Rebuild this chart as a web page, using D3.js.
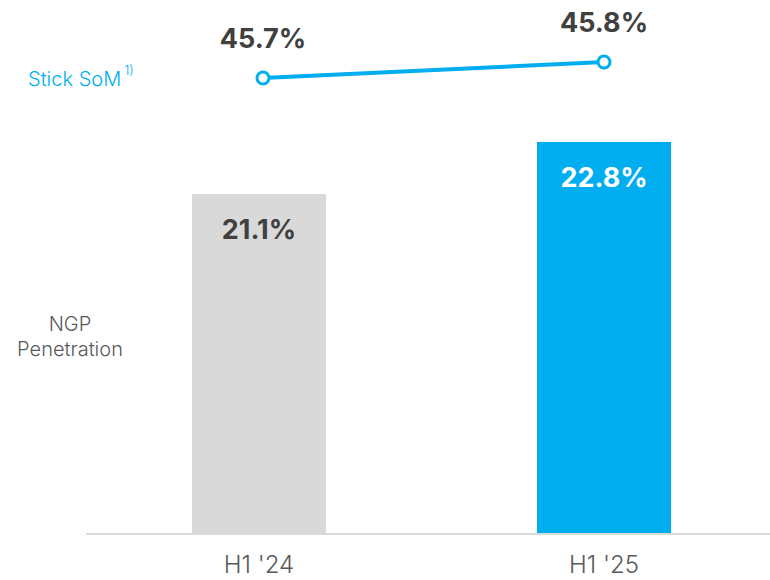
<!DOCTYPE html>
<html><head><meta charset="utf-8">
<script src="https://cdn.jsdelivr.net/npm/d3@7"></script>
<style>html,body{margin:0;padding:0;background:#fff;}svg{display:block;font-family:Inter,Roboto,"Noto Sans",sans-serif;}</style>
</head><body>
<svg id="chart" width="770" height="580"></svg>
<script>
const categories = ["H1 '24", "H1 '25"];
const ngpPenetration = [21.1, 22.8];
const stickSoM = [45.7, 45.8];
const barColors = ["#d9d9d9", "#00aeef"];
const barLabelColors = ["#404040", "#ffffff"];

const svg = d3.select("#chart");
const blue = "#00aeef";

const x = d3.scaleBand().domain(categories).range([86, 777]).paddingInner(0.6116).paddingOuter(0.307);
const y = d3.scaleLinear().domain([10, 27.434]).range([534, 0]);
const xLine = d3.scalePoint().domain(categories).range([263, 604]);
const yLine = d3.scaleLinear().domain([45.7, 45.8]).range([78, 62]);

// bars
svg.selectAll("rect.bar").data(categories).join("rect")
  .attr("class", "bar")
  .attr("x", d => x(d))
  .attr("width", x.bandwidth())
  .attr("y", (d, i) => y(ngpPenetration[i]))
  .attr("height", (d, i) => y(10) - y(ngpPenetration[i]))
  .attr("fill", (d, i) => barColors[i]);

// bar labels
svg.selectAll("text.barlab").data(categories).join("text")
  .attr("class", "barlab")
  .attr("x", d => x(d) + x.bandwidth() / 2)
  .attr("y", (d, i) => y(ngpPenetration[i]) + 45)
  .attr("text-anchor", "middle")
  .attr("font-size", 27).attr("font-weight", 700)
  .attr("fill", (d, i) => barLabelColors[i])
  .text((d, i) => ngpPenetration[i].toFixed(1) + "%");

// baseline axis
const xAxis = d3.axisBottom(x).tickSize(0).tickPadding(22);
const gx = svg.append("g").attr("transform", "translate(0,534)").call(xAxis);
gx.select(".domain").remove();
svg.append("line").attr("x1", 86).attr("x2", 770).attr("y1", 534).attr("y2", 534)
  .attr("stroke", "#d9d9d9").attr("stroke-width", 2);
gx.selectAll("text").attr("font-size", 24).attr("font-family", "Inter")
  .attr("fill", "#595959").attr("font-weight", 300);

// line
const line = d3.line().x((d, i) => xLine(categories[i])).y(d => yLine(d));
svg.append("path").datum(stickSoM).attr("d", line)
  .attr("fill", "none").attr("stroke", blue).attr("stroke-width", 4);
svg.selectAll("circle.pt").data(stickSoM).join("circle")
  .attr("class", "pt")
  .attr("cx", (d, i) => xLine(categories[i]))
  .attr("cy", d => yLine(d))
  .attr("r", 6).attr("fill", "#fff").attr("stroke", blue).attr("stroke-width", 3);
svg.selectAll("text.linelab").data(stickSoM).join("text")
  .attr("class", "linelab")
  .attr("x", (d, i) => xLine(categories[i]))
  .attr("y", d => yLine(d) - 30)
  .attr("text-anchor", "middle")
  .attr("font-size", 27).attr("font-weight", 700).attr("fill", "#404040")
  .text(d => d.toFixed(1) + "%");

// series labels
const som = svg.append("text").attr("x", 28).attr("y", 86)
  .attr("font-size", 20).attr("font-weight", 300).attr("fill", blue);
som.append("tspan").text("Stick SoM");
som.append("tspan").attr("dx", 3).attr("dy", -11).attr("font-size", 13).text("1)");

const ngp = svg.append("text").attr("text-anchor", "middle")
  .attr("font-size", 20).attr("font-weight", 300).attr("fill", "#595959");
ngp.append("tspan").attr("x", 70).attr("y", 331).text("NGP");
ngp.append("tspan").attr("x", 70).attr("y", 356).text("Penetration");
</script>
</body></html>
